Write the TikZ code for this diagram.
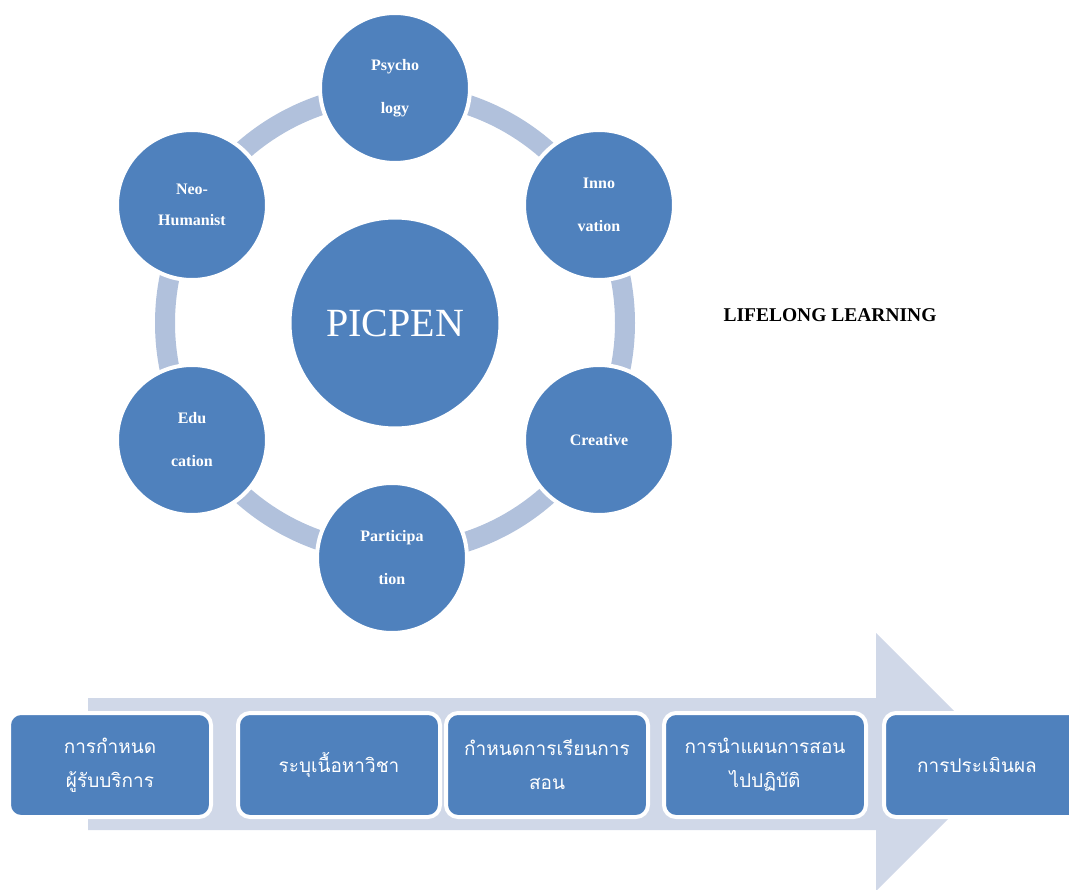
\documentclass[tikz,border=0pt]{standalone}
\usepackage{fontspec}
\setmainfont{Liberation Serif}
\newfontfamily\thaifont[Script=Thai]{Loma}
\definecolor{cblue}{RGB}{79,129,189}
\definecolor{cring}{RGB}{177,193,220}
\definecolor{carrow}{RGB}{208,216,232}
\begin{document}
\begin{tikzpicture}[x=1pt,y=-1pt,
  small/.style={circle,fill=cblue,draw=white,line width=4pt,minimum size=150pt,inner sep=0pt,text=white,align=center,font=\fontsize{16}{43}\selectfont\bfseries},
  big/.style={circle,fill=cblue,draw=white,line width=3pt,minimum size=210pt,inner sep=0pt,text=white,font=\fontsize{40}{42}\selectfont},
  stepbox/.style={rounded corners=12pt,fill=cblue,draw=white,line width=4pt,minimum width=202pt,minimum height=104pt,inner sep=0pt,text=white,align=center,font=\thaifont\fontsize{19}{34}\selectfont}]
\useasboundingbox (0,0) rectangle (1069,890);
% ring
\coordinate (o) at (395,323);
\draw[cring,line width=20pt] (o) circle[radius=230pt];
\node[big] (c) at (o) {PICPEN};
\node[small] (psy) at (395,88) {Psycho\\logy};
\node[small] (inn) at (599,205) {Inno\\vation};
\node[small] (cre) at (599,440) {Creative};
\node[small] (par) at (392,558) {Participa\\tion};
\node[small] (edu) at (192,440) {Edu\\cation};
\node[small,font=\fontsize{16}{31}\selectfont\bfseries] (neo) at (192,205) {Neo-\\Humanist};
\node[font=\fontsize{19.5}{22}\selectfont\bfseries] (ll) at (830,315) {LIFELONG LEARNING};
% arrow
\fill[carrow] (88,698) -- (876,698) -- (876,633) -- (1005,762) -- (876,891) -- (876,830) -- (88,830) -- cycle;
\node[stepbox] (s1) at (110,765) {การกำหนด\\ผู้รับบริการ};
\node[stepbox] (s2) at (339,765) {ระบุเนื้อหาวิชา};
\node[stepbox] (s3) at (547,765) {กำหนดการเรียนการ\\สอน};
\node[stepbox] (s4) at (765,765) {การนำแผนการสอน\\ไปปฏิบัติ};
\node[stepbox,minimum width=200pt] (s5) at (984,765) {\hspace*{-14pt}การประเมินผล};
\end{tikzpicture}
\end{document}
